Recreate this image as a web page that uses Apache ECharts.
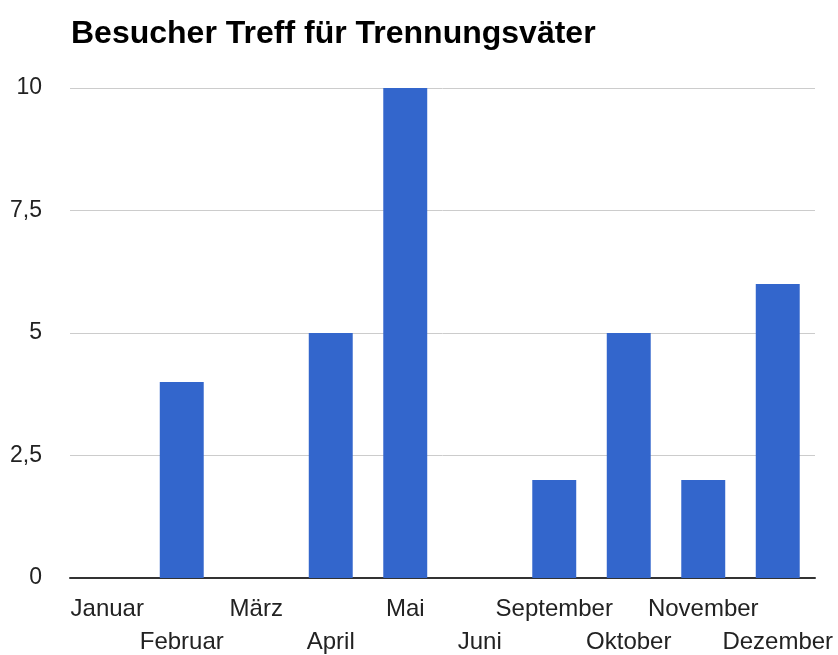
<!DOCTYPE html>
<html>
<head>
<meta charset="utf-8">
<script src="https://cdn.jsdelivr.net/npm/echarts@6/dist/echarts.min.js"></script>
<style>html,body{margin:0;padding:0;background:#fff}#c{width:838px;height:655px}</style>
</head>
<body>
<div id="c"></div>
<script>
const titleText = 'Besucher Treff für Trennungsväter';
const categories = ['Januar','Februar','März','April','Mai','Juni','September','Oktober','November','Dezember'];
const visitors = [0,4,0,5,10,0,2,5,2,6];
const yTicks = [0,2.5,5,7.5,10];

const chart = echarts.init(document.getElementById('c'));
chart.setOption({
  animation: false,
  title: {
    text: titleText, left: 66, top: 13,
    textStyle: {fontFamily: 'Liberation Sans, Arial', fontWeight: 'bold', fontSize: 32, color: '#000'}
  },
  grid: {left: 70, right: 23, top: 88, bottom: 77, containLabel: false, outerBoundsMode: 'none'},
  xAxis: {
    type: 'category', data: categories,
    axisLine: {lineStyle: {color: '#333', width: 2}},
    axisTick: {show: false},
    axisLabel: {
      interval: 0, margin: 15, lineHeight: 33,
      fontFamily: 'Liberation Sans, Arial', fontSize: 24, color: '#222',
      formatter: (v, i) => (i % 2 === 1 ? '\n' + v : v)
    }
  },
  yAxis: {
    type: 'value', min: 0, max: 10, interval: 2.5,
    axisLine: {show: false}, axisTick: {show: false},
    splitLine: {lineStyle: {color: '#ccc'}},
    axisLabel: {
      margin: 28, fontFamily: 'Liberation Sans, Arial', fontSize: 23, color: '#222',
      padding: [5, 0, 0, 0],
      formatter: v => yTicks.includes(v) ? String(v).replace('.', ',') : ''
    }
  },
  series: [{
    type: 'bar', data: visitors, barWidth: '59%',
    itemStyle: {color: '#3366cc'}
  }]
});
</script>
</body>
</html>
